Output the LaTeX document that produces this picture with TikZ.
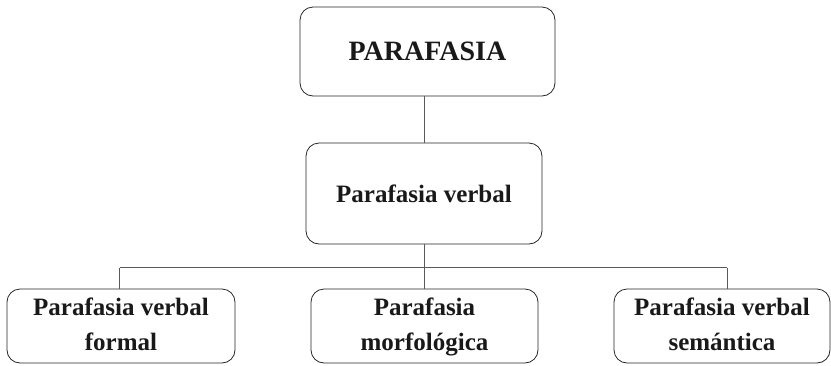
\documentclass[tikz,border=0pt]{standalone}
\usepackage{fontspec}
\setmainfont{Liberation Serif}
\newcommand{\twolines}[2]{\raisebox{-3pt}{\begin{tabular}{@{}c@{}}#1\\#2\end{tabular}}}
\begin{document}
\begin{tikzpicture}[x=1pt,y=1pt,
  box/.style={draw=black!85, line width=0.8pt, rounded corners=13pt, inner sep=0pt, align=center, font=\fontsize{25}{35}\selectfont\bfseries, text=black!90},
  conn/.style={draw=black!65, line width=0.9pt}]
\useasboundingbox (0,0) rectangle (831,-365);
\node[box, minimum width=255pt, minimum height=89pt, font=\fontsize{28}{34}\selectfont\bfseries] (top) at (427.5,-51.5) {PARAFASIA};
\node[box, minimum width=236pt, minimum height=101pt] (mid) at (424,-193.5) {Parafasia verbal};
\node[box, minimum width=228pt, minimum height=74pt] (bl) at (121,-326) {\twolines{Parafasia verbal}{formal}};
\node[box, minimum width=227pt, minimum height=74pt] (bm) at (424.5,-326) {\twolines{Parafasia}{morfológica}};
\node[box, minimum width=216pt, minimum height=74pt] (br) at (722,-326) {\twolines{Parafasia verbal}{semántica}};
\coordinate (busL) at (119.5,-267.5);
\coordinate (busM) at (424,-267.5);
\coordinate (busR) at (727,-267.5);
\draw[conn] (top.south -| mid.north) -- (mid.north);
\draw[conn] (mid.south) -- (busM);
\draw[conn] (busL) -- (busR);
\draw[conn] (busL) -- (busL |- bl.north);
\draw[conn] (busM) -- (busM |- bm.north);
\draw[conn] (busR) -- (busR |- br.north);
\end{tikzpicture}
\end{document}
